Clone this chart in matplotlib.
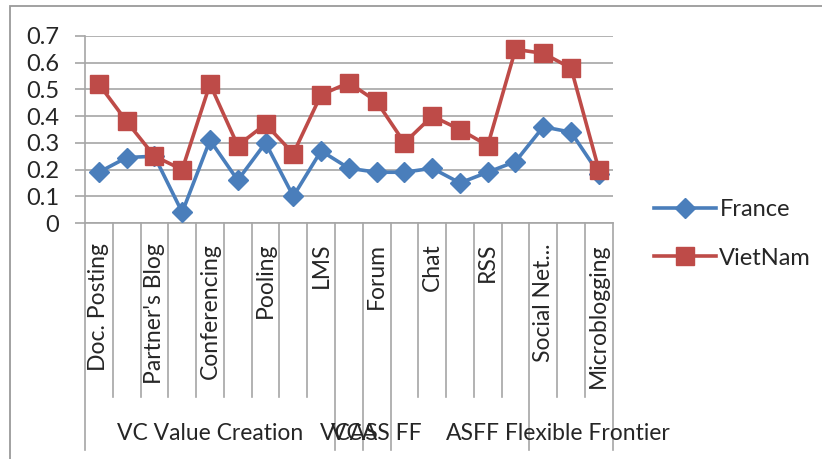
import matplotlib
matplotlib.use("Agg")
import matplotlib.pyplot as plt
from matplotlib.lines import Line2D
import matplotlib.transforms as mtransforms

## Data
categories = ["Doc. Posting", "", "Partner's Blog", "", "Conferencing", "", "Pooling", "",
              "LMS", "", "Forum", "", "Chat", "", "RSS", "", "Social Net...", "", "Microblogging"]
france = [0.19, 0.245, 0.25, 0.04, 0.31, 0.16, 0.30, 0.10, 0.27, 0.205,
          0.19, 0.19, 0.205, 0.15, 0.19, 0.23, 0.36, 0.34, 0.185]
vietnam = [0.52, 0.38, 0.25, 0.20, 0.52, 0.29, 0.37, 0.26, 0.48, 0.525,
           0.455, 0.30, 0.40, 0.35, 0.29, 0.65, 0.635, 0.58, 0.20]
group_edges = [0, 9, 10, 11, 16, 19]
group_labels = ["VC Value Creation", "VCAS", "VCAS FF", "AS", "FF Flexible Frontier"]
yticks = [0, 0.1, 0.2, 0.3, 0.4, 0.5, 0.6, 0.7]

BLUE = "#4a7ebb"
RED = "#be4b48"
GRID = "#a6a6a6"
TXT = "#262626"
FS = 16.5

plt.rcParams["font.family"] = ["Lato", "DejaVu Sans"]

W, H = 822, 459
fig = plt.figure(figsize=(W / 100, H / 100), dpi=100)

# chart area border (runs off the right and bottom edges)
fig.add_artist(plt.Rectangle((9.5 / W, -0.1), 1.2, (H - 6.5) / H + 0.1, transform=fig.transFigure,
                             fill=False, edgecolor="#9a9a9a", linewidth=1.3))

x0, x1, ytop, ybot = 85, 612.7, 36, 223
ax = fig.add_axes([x0 / W, 1 - ybot / H, (x1 - x0) / W, (ybot - ytop) / H])
n = len(categories)
xs = [i + 0.5 for i in range(n)]

ax.plot(xs, france, color=BLUE, lw=2.6, marker="D", ms=10, label="France", zorder=3)
ax.plot(xs, vietnam, color=RED, lw=2.6, marker="s", ms=13, label="VietNam", zorder=4)

ax.set_xlim(0, n)
ax.set_ylim(0, 0.7)
ax.set_yticks(yticks)
ax.set_yticklabels(["0" if v == 0 else "%.1f" % v for v in yticks], fontsize=FS + 0.5, color=TXT)
ax.yaxis.grid(True, color=GRID, lw=1.2)
ax.set_axisbelow(True)
ax.tick_params(axis="y", length=7.5, width=1.2, color=GRID, pad=11)
ax.set_xticks([])
for s in ["top", "right"]:
    ax.spines[s].set_visible(False)
for s in ["left", "bottom"]:
    ax.spines[s].set_color(GRID)
    ax.spines[s].set_linewidth(1.2)

# category axis: ticks, rotated labels, group dividers
trans = mtransforms.blended_transform_factory(ax.transData, ax.transAxes)
axh = ybot - ytop
short = -(397 - ybot) / axh
long_ = -(450 - ybot) / axh
for i in range(n + 1):
    bottom = long_ if i in group_edges else short
    ax.add_line(Line2D([i, i], [0, bottom], transform=trans, color=GRID, lw=1.2, clip_on=False))
for i, lab in enumerate(categories):
    if lab:
        ax.text(i + 0.5, -(243 - ybot) / axh, lab, transform=trans, rotation=90,
                ha="center", va="top", fontsize=FS, color=TXT)
for k, lab in enumerate(group_labels):
    mid = (group_edges[k] + group_edges[k + 1]) / 2
    ax.text(mid, -(433 - ybot) / axh, lab, transform=trans, ha="center", va="center",
            fontsize=FS, color=TXT)

fig.legend(loc="upper left", bbox_to_anchor=(645 / W, 1 - 190 / H), frameon=False,
           fontsize=FS + 0.5, labelcolor=TXT, handlelength=2.6, handletextpad=0.15,
           labelspacing=1.15, borderaxespad=0)

fig.savefig("out.png", dpi=100)
